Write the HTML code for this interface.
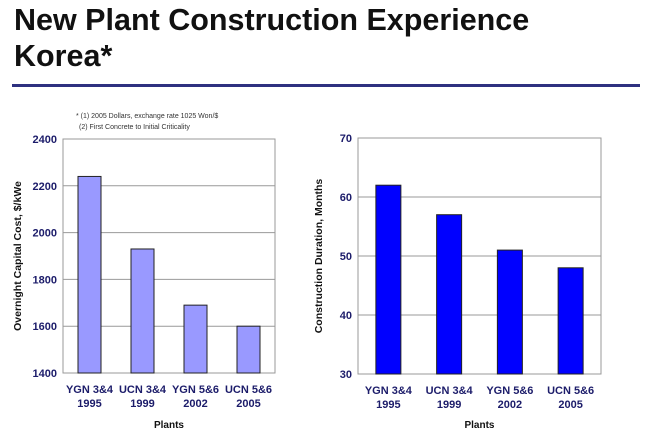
<!DOCTYPE html>
<html><head><meta charset="utf-8"><style>
html,body{margin:0;padding:0;background:#fff;width:645px;height:435px;overflow:hidden;font-family:"Liberation Sans",sans-serif}
.title{position:absolute;left:14px;top:2px;font-size:30.5px;font-weight:bold;color:#111;line-height:36px}
.rule{position:absolute;left:12px;top:84px;width:628px;height:3px;background:#2e3180}
svg{position:absolute;left:0;top:0}
</style></head><body>
<div class="title">New Plant Construction Experience<br>Korea*</div>
<div class="rule"></div>
<svg width="645" height="435">
<text x="76" y="118" font-size="7" fill="#333">* (1) 2005 Dollars, exchange rate 1025 Won/$</text>
<text x="79" y="129" font-size="7" fill="#333">(2) First Concrete to Initial Criticality</text>
<g id="c1"></g><g id="c2"></g>
</svg>
<script>
const categories=["YGN 3&4|1995","UCN 3&4|1999","YGN 5&6|2002","UCN 5&6|2005"];
const costValues=[2240,1930,1690,1600];
const costTicks=[1400,1600,1800,2000,2200,2400];
const durationValues=[62,57,51,48];
const durationTicks=[30,40,50,60,70];
const NS="http://www.w3.org/2000/svg";
function mk(p,t,a){const e=document.createElementNS(NS,t);for(const k in a)e.setAttribute(k,a[k]);p.appendChild(e);return e;}
function chart(g,o){
  const y=v=>o.y1+(o.max-v)/(o.max-o.min)*(o.y0-o.y1);
  const cw=(o.x1-o.x0)/categories.length;
  o.ticks.forEach(t=>{
    const l=mk(g,'line',{x1:o.x0,x2:o.x1,y1:y(t),y2:y(t),stroke:'#999','stroke-width':1});
    
    
    const tx=mk(g,'text',{x:o.x0-6,y:y(t)+4,'text-anchor':'end','font-size':11,'font-weight':'bold',fill:'#1c1c6a'});
    tx.textContent=t;
    
    
  });
  const f=mk(g,'rect',{x:o.x0,y:o.y1,width:o.x1-o.x0,height:o.y0-o.y1,fill:'none',stroke:'#999'});
  
  
  o.vals.forEach((v,i)=>{
    const cx=o.x0+cw*(i+.5);
    const b=mk(g,'rect',{x:cx-o.bw/2,y:y(v),width:o.bw,height:o.y0-y(v),fill:o.color,stroke:'#222','stroke-width':1});
    
    
    const parts=categories[i].split('|');
    parts.forEach((p,j)=>{
      const t=mk(g,'text',{x:cx,y:o.y0+20+j*14,'text-anchor':'middle','font-size':11,'font-weight':'bold',fill:'#1c1c6a'});
      t.textContent=p;
      
      
    });
  });
  const xt=mk(g,'text',{x:(o.x0+o.x1)/2,y:428,'text-anchor':'middle','font-size':10,'font-weight':'bold',fill:'#111'});
  xt.textContent='Plants';
  
  
  const yc=(o.y0+o.y1)/2;
  const yt=mk(g,'text',{x:o.tx,y:yc,'text-anchor':'middle','font-size':10.5,'font-weight':'bold',fill:'#111',transform:`rotate(-90 ${o.tx} ${yc})`});
  yt.textContent=o.title;
  
  
}
chart(document.getElementById('c1'),{x0:63,x1:275,y0:373,y1:139,min:1400,max:2400,ticks:costTicks,vals:costValues,bw:23,color:'#9999ff',tx:21,title:'Overnight Capital Cost, $/kWe'});
chart(document.getElementById('c2'),{x0:358,x1:601,y0:374,y1:138,min:30,max:70,ticks:durationTicks,vals:durationValues,bw:25,color:'#0000ff',tx:322,title:'Construction Duration, Months'});
</script>
</body></html>
